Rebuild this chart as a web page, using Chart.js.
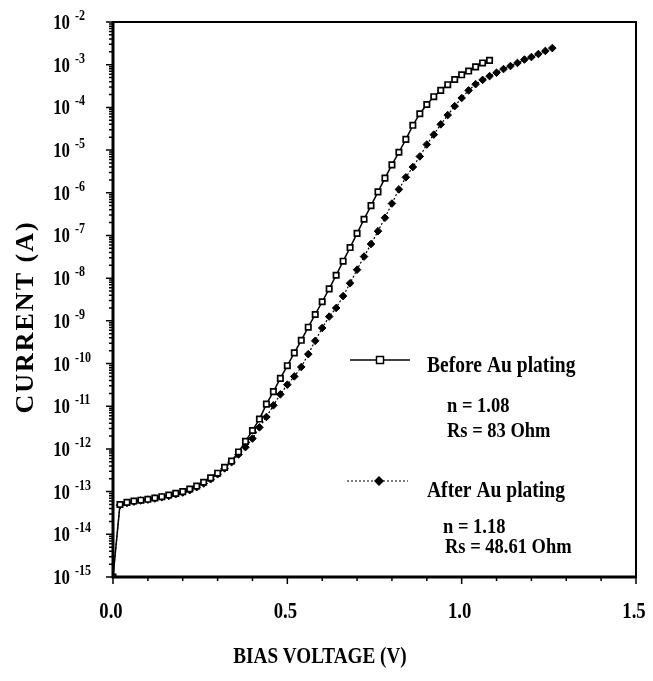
<!DOCTYPE html>
<html>
<head>
<meta charset="utf-8">
<script src="https://cdn.jsdelivr.net/npm/chart.js@4/dist/chart.umd.min.js"></script>
<style>
  body { margin: 0; background: #fff; }
</style>
</head>
<body>
<canvas id="chart" width="653" height="681"></canvas>
<script>
// bias voltage (V), shared by both series
const voltage = [
  0.00, 0.02, 0.04, 0.06, 0.08, 0.10, 0.12, 0.14, 0.16, 0.18,
  0.20, 0.22, 0.24, 0.26, 0.28, 0.30, 0.32, 0.34, 0.36, 0.38,
  0.40, 0.42, 0.44, 0.46, 0.48, 0.50, 0.52, 0.54, 0.56, 0.58,
  0.60, 0.62, 0.64, 0.66, 0.68, 0.70, 0.72, 0.74, 0.76, 0.78,
  0.80, 0.82, 0.84, 0.86, 0.88, 0.90, 0.92, 0.94, 0.96, 0.98,
  1.00, 1.02, 1.04, 1.06, 1.08, 1.10, 1.12, 1.14, 1.16, 1.18,
  1.20, 1.22, 1.24, 1.26
];

// current (A) before Au plating, 0.00 .. 1.08 V
const currentBefore = [
  1.0e-15, 5.0e-14, 5.6e-14, 6.0e-14, 6.3e-14, 6.6e-14, 7.1e-14, 7.6e-14, 8.3e-14, 9.1e-14,
  1.0e-13, 1.15e-13, 1.35e-13, 1.66e-13, 2.1e-13, 2.7e-13, 3.7e-13, 5.2e-13, 8.5e-13, 1.5e-12,
  2.7e-12, 5.0e-12, 1.12e-11, 2.2e-11, 4.5e-11, 8.9e-11, 1.78e-10, 3.5e-10, 7.1e-10, 1.41e-9,
  2.8e-9, 5.6e-9, 1.17e-8, 2.5e-8, 5.2e-8, 1.12e-7, 2.4e-7, 5.0e-7, 1.05e-6, 2.2e-6,
  4.5e-6, 8.9e-6, 1.78e-5, 3.8e-5, 7.1e-5, 1.17e-4, 1.78e-4, 2.5e-4, 3.4e-4, 4.5e-4,
  5.8e-4, 7.1e-4, 8.9e-4, 1.10e-3, 1.26e-3
];

// current (A) after Au plating, 0.00 .. 1.26 V
const currentAfter = [
  1.0e-15, 4.8e-14, 5.4e-14, 5.8e-14, 6.2e-14, 6.5e-14, 6.9e-14, 7.4e-14, 7.9e-14, 8.7e-14,
  9.5e-14, 1.08e-13, 1.27e-13, 1.55e-13, 1.95e-13, 2.55e-13, 3.5e-13, 4.9e-13, 7.4e-13, 1.1e-12,
  1.75e-12, 3.2e-12, 5.6e-12, 1.05e-11, 1.9e-11, 3.2e-11, 5.0e-11, 8.3e-11, 1.66e-10, 3.4e-10,
  6.8e-10, 1.26e-9, 2.0e-9, 3.8e-9, 7.6e-9, 1.58e-8, 3.2e-8, 6.3e-8, 1.26e-7, 2.6e-7,
  5.6e-7, 1.2e-6, 2.3e-6, 4.0e-6, 7.1e-6, 1.35e-5, 2.3e-5, 4.0e-5, 6.6e-5, 1.07e-4,
  1.66e-4, 2.5e-4, 3.5e-4, 4.4e-4, 5.4e-4, 6.5e-4, 7.9e-4, 9.3e-4, 1.10e-3, 1.32e-3,
  1.51e-3, 1.78e-3, 2.1e-3, 2.45e-3
];

const yExponents = [-15, -14, -13, -12, -11, -10, -9, -8, -7, -6, -5, -4, -3, -2];
const xTicks = [0, 0.5, 1.0, 1.5];
const xTickLabels = ["0.0", "0.5", "1.0", "1.5"];

const FONT = "'Liberation Serif', 'Times New Roman', serif";

function pts(ys) {
  return ys.map((y, i) => ({ x: voltage[i], y: y }));
}

// condensed bold serif text, like the scanned figure
function text(ctx, str, x, y, size, align, sx) {
  ctx.save();
  ctx.font = "bold " + size + "px " + FONT;
  ctx.textAlign = align;
  ctx.textBaseline = "alphabetic";
  ctx.translate(x, y);
  ctx.scale(sx, 1);
  ctx.fillText(str, 0, 0);
  ctx.restore();
}

const decorations = {
  id: "decorations",
  afterDraw(chart) {
    const ctx = chart.ctx;
    const a = chart.chartArea;
    const xs = chart.scales.x;
    const ys = chart.scales.y;
    ctx.save();
    ctx.fillStyle = "#000";
    ctx.strokeStyle = "#000";

    // frame
    ctx.lineWidth = 2;
    ctx.strokeRect(a.left, a.top, a.right - a.left, a.bottom - a.top);
    ctx.lineWidth = 3;
    ctx.beginPath();
    ctx.moveTo(a.left, a.top); ctx.lineTo(a.left, a.bottom); ctx.lineTo(a.right, a.bottom);
    ctx.stroke();

    // y ticks
    ctx.lineWidth = 1.5;
    ctx.beginPath();
    yExponents.forEach(e => {
      const p = ys.getPixelForValue(Math.pow(10, e));
      ctx.moveTo(a.left - 7, p); ctx.lineTo(a.left, p);
      if (e < -2) {
        for (let m = 2; m <= 9; m++) {
          const q = ys.getPixelForValue(m * Math.pow(10, e));
          ctx.moveTo(a.left - 4, q); ctx.lineTo(a.left, q);
        }
      }
    });
    // x ticks
    for (let k = 0; k <= 15; k++) {
      const p = xs.getPixelForValue(k / 10);
      const len = k % 5 === 0 ? 7 : 4;
      ctx.moveTo(p, a.bottom); ctx.lineTo(p, a.bottom + len);
    }
    ctx.stroke();

    // y tick labels 10^e
    yExponents.forEach(e => {
      const p = ys.getPixelForValue(Math.pow(10, e));
      text(ctx, "10", 70, p + 7, 21, "right", 0.8);
      text(ctx, String(e), 75, p - 2, 15, "left", 0.8);
    });

    // x tick labels
    xTicks.forEach((v, i) => {
      text(ctx, xTickLabels[i], xs.getPixelForValue(v) - 2, 618, 24, "center", 0.78);
    });

    // axis titles
    text(ctx, "BIAS VOLTAGE (V)", 320, 663, 24, "center", 0.8);
    ctx.save();
    ctx.translate(33, 317);
    ctx.rotate(-Math.PI / 2);
    ctx.font = "bold 26px " + FONT;
    ctx.letterSpacing = "2px";
    ctx.textAlign = "center";
    ctx.fillText("CURRENT (A)", 0, 0);
    ctx.restore();

    // legend: before
    ctx.lineWidth = 1.5;
    ctx.setLineDash([]);
    ctx.beginPath(); ctx.moveTo(350, 360); ctx.lineTo(410, 360); ctx.stroke();
    ctx.fillStyle = "#fff";
    ctx.fillRect(376.5, 356.5, 7, 7);
    ctx.strokeRect(376.5, 356.5, 7, 7);
    ctx.fillStyle = "#000";
    text(ctx, "Before Au plating", 427, 372, 23, "left", 0.85);
    text(ctx, "n = 1.08", 447, 412, 21, "left", 0.88);
    text(ctx, "Rs = 83 Ohm", 447, 437, 21, "left", 0.88);

    // legend: after
    ctx.lineWidth = 1;
    ctx.setLineDash([2, 2]);
    ctx.beginPath(); ctx.moveTo(347, 481); ctx.lineTo(408, 481); ctx.stroke();
    ctx.setLineDash([]);
    ctx.beginPath();
    ctx.moveTo(379, 476); ctx.lineTo(384, 481); ctx.lineTo(379, 486); ctx.lineTo(374, 481);
    ctx.closePath(); ctx.fill();
    text(ctx, "After Au plating", 427, 497, 23, "left", 0.85);
    text(ctx, "n = 1.18", 443, 533, 21, "left", 0.88);
    text(ctx, "Rs = 48.61 Ohm", 445, 553, 21, "left", 0.88);

    ctx.restore();
  }
};

new Chart(document.getElementById("chart"), {
  type: "line",
  data: {
    datasets: [
      {
        label: "Before Au plating",
        data: pts(currentBefore),
        borderColor: "#000",
        borderWidth: 1.5,
        pointStyle: "rect",
        pointRadius: 3.8,
        pointBackgroundColor: "#fff",
        pointBorderColor: "#000",
        pointBorderWidth: 1.7,
        order: 1
      },
      {
        label: "After Au plating",
        data: pts(currentAfter),
        borderColor: "#000",
        borderWidth: 1.2,
        borderDash: [2, 2],
        pointStyle: "rectRot",
        pointRadius: 3.8,
        pointBackgroundColor: "#000",
        pointBorderColor: "#000",
        pointBorderWidth: 1,
        order: 2
      }
    ]
  },
  options: {
    responsive: false,
    animation: false,
    layout: { padding: { left: 113, top: 22, right: 17, bottom: 104 } },
    plugins: {
      legend: { display: false },
      tooltip: { enabled: false }
    },
    scales: {
      x: { type: "linear", min: 0, max: 1.5, display: false },
      y: { type: "logarithmic", min: 1e-15, max: 1e-2, display: false }
    }
  },
  plugins: [decorations]
});
</script>
</body>
</html>
